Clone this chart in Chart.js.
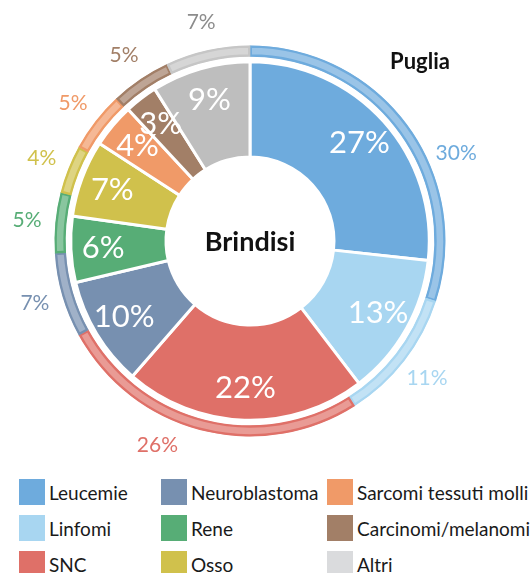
<!DOCTYPE html>
<html>
<head>
<meta charset="utf-8">
<script src="https://cdn.jsdelivr.net/npm/chart.js@4/dist/chart.umd.min.js"></script>
<style>
  html,body{margin:0;padding:0;background:#fff;width:531px;height:573px;overflow:hidden;}
  #wrap{position:relative;width:531px;height:573px;}
  #c{position:absolute;left:0;top:0;}
  .lg{position:absolute;display:flex;align-items:center;font-family:Lato,"Noto Sans",sans-serif;font-size:19px;color:#1a1a1a;white-space:nowrap;}
  .lg span.sw{display:inline-block;width:26px;height:26px;margin-right:4px;}
</style>
</head>
<body>
<div id="wrap">
  <canvas id="c" width="531" height="470"></canvas>
  <div id="legend"></div>
</div>
<script>
// ---- data ----
const categories = ["Leucemie","Linfomi","SNC","Neuroblastoma","Rene","Osso","Sarcomi tessuti molli","Carcinomi/melanomi","Altri"];
const brindisiValues = [27,13,22,10,6,7,4,3,9];
const pugliaValues = [30,11,26,7,5,4,5,5,7];
const innerLabel = "Brindisi";
const outerLabel = "Puglia";

// ---- styles ----
const colors = ["#6EABDD","#A8D6F1","#DF7068","#7790B0","#57AD76","#D0C14C","#F09A68","#A27F67","#BEBEBE"];
const legendColors = ["#6EABDD","#A8D6F1","#DF7068","#7790B0","#57AD76","#D0C14C","#F09A68","#A27F67","#DADBDD"];
const outerLabelColors = ["#6EABDD","#A8D6F1","#DF7068","#7790B0","#57AD76","#D0C14C","#F09A68","#A27F67","#8C8C8C"];

function tint(hex, f){
  const n = parseInt(hex.slice(1),16);
  const r=(n>>16)&255,g=(n>>8)&255,b=n&255;
  const m=v=>Math.round(v+(255-v)*f);
  return `rgb(${m(r)},${m(g)},${m(b)})`;
}
const ringFill = colors.map(c=>tint(c,0.3));
ringFill[8] = "#D6D6D6";
const ringBorder = colors.slice();
ringBorder[8] = "#C6C6C6";

const labelPlugin = {
  id:'pctLabels',
  afterDatasetsDraw(chart, args, opts){
    const ctx = chart.ctx;
    ctx.save();
    ctx.textAlign='center';
    ctx.textBaseline='middle';
    // inner labels
    const mi = chart.getDatasetMeta(2);
    mi.data.forEach((arc,i)=>{
      const p = arc.getProps(['x','y','startAngle','endAngle'],true);
      const a = (p.startAngle+p.endAngle)/2;
      ctx.font = '31px Lato, "Noto Sans", sans-serif';
      ctx.fillStyle = '#ffffff';
      ctx.fillText(brindisiValues[i]+'%', p.x+opts.innerR*Math.cos(a), p.y+opts.innerR*Math.sin(a));
    });
    // outer labels
    const mo = chart.getDatasetMeta(0);
    mo.data.forEach((arc,i)=>{
      const p = arc.getProps(['x','y','startAngle','endAngle'],true);
      const a = (p.startAngle+p.endAngle)/2 + (opts.outerShift[i]||0)*Math.PI/180;
      ctx.font = '21px Lato, "Noto Sans", sans-serif';
      ctx.fillStyle = outerLabelColors[i];
      ctx.fillText(pugliaValues[i]+'%', p.x+opts.outerR*Math.cos(a), p.y+opts.outerR*Math.sin(a));
    });
    // center + ring titles
    const c0 = mi.data[0].getProps(['x','y'],true);
    ctx.fillStyle='#111';
    ctx.font='bold 27px Lato, "Noto Sans", sans-serif';
    ctx.fillText(innerLabel, c0.x, c0.y+1);
    ctx.font='bold 22px Lato, "Noto Sans", sans-serif';
    ctx.fillText(outerLabel, c0.x+170, 62);
    ctx.restore();
  }
};

new Chart(document.getElementById('c'),{
  type:'doughnut',
  data:{
    labels:categories,
    datasets:[
      {label:outerLabel,data:pugliaValues,backgroundColor:ringFill,borderColor:ringBorder,borderWidth:2,hoverBorderWidth:2,borderAlign:'inner',weight:11},
      {label:'gap',data:[1],backgroundColor:['rgba(0,0,0,0)'],borderWidth:0,hoverBorderWidth:0,weight:5},
      {label:innerLabel,data:brindisiValues,backgroundColor:colors,borderColor:'#ffffff',borderWidth:3,hoverBorderWidth:3,weight:94}
    ]
  },
  options:{
    responsive:false,
    animation:false,
    cutout:84,
    hoverOffset:0,
    events:[],
    layout:{padding:{left:40,right:71,top:45.5,bottom:33.5}},
    plugins:{
      legend:{display:false},
      tooltip:{enabled:false},
      pctLabels:{innerR:147,outerR:224,outerShift:{0:13,2:10}}
    }
  },
  plugins:[labelPlugin]
});

// HTML legend
const lg = document.getElementById('legend');
const colX=[19,161,327], rowY=[479,515,551];
categories.forEach((name,i)=>{
  const col=Math.floor(i/3), row=i%3;
  const d=document.createElement('div');
  d.className='lg';
  d.style.left=colX[col]+'px';
  d.style.top=rowY[row]+'px';
  d.style.height='26px';
  d.innerHTML=`<span class="sw" style="background:${legendColors[i]}"></span>`;
  d.appendChild(document.createTextNode(name));
  lg.appendChild(d);
});
</script>
</body>
</html>
